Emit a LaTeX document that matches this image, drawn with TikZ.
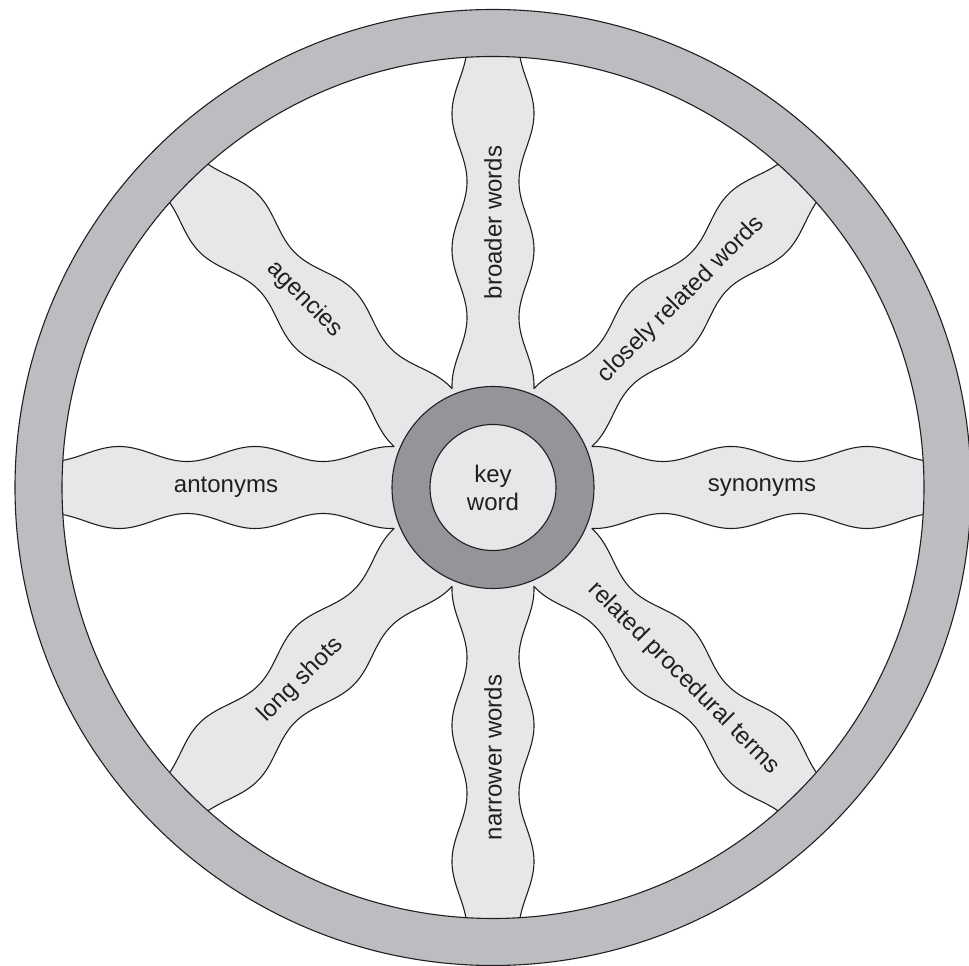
\documentclass[tikz,border=0pt]{standalone}
\usepackage{fontspec}
\setmainfont{Liberation Sans}
\definecolor{ringgray}{HTML}{BCBDC0}
\definecolor{hubgray}{HTML}{939598}
\definecolor{spokefill}{HTML}{E6E7E8}
\definecolor{ink}{HTML}{231F20}
\tikzset{
  spokeedge/.style={draw=ink, line width=1.1pt},
  spokelabel/.style={text=ink, font=\fontsize{24}{28}\selectfont, inner sep=0pt},
  wheelline/.style={draw=ink, line width=1.1pt},
}
\begin{document}
\begin{tikzpicture}[x=1pt,y=1pt,
  declare function={hw(\r)=33.5+7.5*cos(2.6470588*(\r-102));}]
\useasboundingbox (0,0) rectangle (969,966);
\coordinate (c) at (493,478.5);
% spoke fills
\foreach \a in {0,45,...,315}{
  \fill[spokefill, shift={(493,478.5)}, rotate=\a]
    (0,0) -- plot[domain=98.8:445, samples=140] (\x,{hw(\x)})
    -- plot[domain=445:98.8, samples=140] (\x,{-hw(\x)}) -- cycle;
}
% spoke edges
\foreach \a in {0,45,...,315}{
  \draw[spokeedge, shift={(493,478.5)}, rotate=\a]
    plot[domain=98.8:445, samples=140] (\x,{hw(\x)});
  \draw[spokeedge, shift={(493,478.5)}, rotate=\a]
    plot[domain=98.8:445, samples=140] (\x,{-hw(\x)});
}
% outer ring
\draw[wheelline, fill=ringgray, even odd rule] (c) circle[radius=478] (c) circle[radius=431];
% hub
\node[circle, wheelline, fill=hubgray, minimum size=202pt, inner sep=0pt] (hub) at (c) {};
\node[circle, wheelline, fill=spokefill, minimum size=126pt, inner sep=0pt,
      align=center, text=ink, font=\fontsize{24}{28}\selectfont] (key) at (c) {key\\word};
% labels
\node[spokelabel] (syn) at ([shift={(0:269)}]c) {synonyms};
\node[spokelabel, rotate=45] (close) at ([shift={(45:266)}]c) {closely related words};
\node[spokelabel, rotate=90] (broad) at ([shift={(90:265)}]c) {broader words};
\node[spokelabel, rotate=-45] (agen) at ([shift={(135:266)}]c) {agencies};
\node[spokelabel] (ant) at ([shift={(180:267)}]c) {antonyms};
\node[spokelabel, rotate=45] (long) at ([shift={(225:272)}]c) {long shots};
\node[spokelabel, rotate=90] (narrow) at ([shift={(270:270)}]c) {narrower words};
\node[spokelabel, rotate=-45] (proc) at ([shift={(315:270)}]c) {related procedural terms};
\end{tikzpicture}
\end{document}
